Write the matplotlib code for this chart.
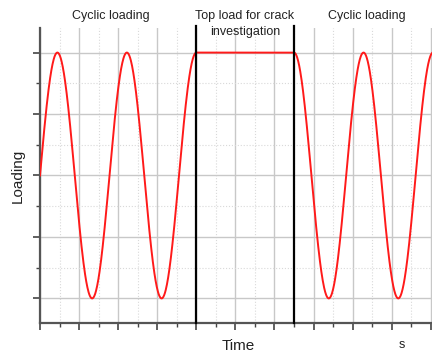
'''
Loading history: cyclic loading, hold at top load, cyclic loading
'''

import numpy as np
import matplotlib
matplotlib.use('Agg')
import matplotlib.pyplot as plt
from matplotlib.ticker import MultipleLocator

plt.rcParams['font.family'] = ['Liberation Sans', 'DejaVu Sans']

# loading stages (time in grid units)
stage_bounds = [0.0, 4.0, 6.5, 10.03]
stage_names = ['Cyclic loading', 'Top load for crack\ninvestigation', 'Cyclic loading']
period = 1.778
amplitude = 1.0


def loading_curve():
    '''
    Build the load history from the three stages
    '''
    t1 = np.linspace(stage_bounds[0], stage_bounds[1], 400)
    y1 = amplitude * np.sin(2 * np.pi * (t1 - stage_bounds[0]) / period)
    t2 = np.array([stage_bounds[1], stage_bounds[2]])
    y2 = np.array([amplitude, amplitude])
    t3 = np.linspace(stage_bounds[2], stage_bounds[3], 400)
    y3 = amplitude * np.cos(2 * np.pi * (t3 - stage_bounds[2]) / period)
    return np.concatenate([t1, t2, t3]), np.concatenate([y1, y2, y3])


def plot_loading():
    '''
    Draw the chart and save it
    '''
    fig = plt.figure(figsize=(4.32, 3.53), dpi=100)
    ax = fig.add_axes([0.0926, 0.085, 0.9074, 0.8357])

    time, load = loading_curve()
    ax.plot(time, load, color='#ff1a1a', lw=1.4, zorder=3)

    for xb in stage_bounds[1:3]:
        ax.plot([xb, xb], [-1.2, 1.22], color='black', lw=1.6,
                clip_on=False, zorder=4)

    ax.set_xlim(stage_bounds[0], stage_bounds[3])
    ax.set_ylim(-1.2, 1.2)

    ax.xaxis.set_major_locator(MultipleLocator(1))
    ax.xaxis.set_minor_locator(MultipleLocator(0.5))
    ax.yaxis.set_major_locator(MultipleLocator(0.5))
    ax.yaxis.set_minor_locator(MultipleLocator(0.25))
    ax.set_xticklabels([])
    ax.set_yticklabels([])
    ax.tick_params(which='major', direction='out', length=5, width=1.2,
                   color='#444444')
    ax.tick_params(which='minor', direction='out', length=3, width=1.0,
                   color='#444444')

    ax.grid(which='major', color='#c8c8c8', lw=1.0)
    ax.grid(which='minor', color='#d9d9d9', lw=0.8, ls=':')
    ax.set_axisbelow(True)

    for side in ['top', 'right']:
        ax.spines[side].set_visible(False)
    for side in ['left', 'bottom']:
        ax.spines[side].set_color('#555555')
        ax.spines[side].set_linewidth(1.6)

    centres = [111, 245, 367]
    for name, xc in zip(stage_names, centres):
        fig.text(xc / 432, 1 - 10 / 353, name, ha='center', va='top',
                 fontsize=9, color='#222222', linespacing=1.5)

    fig.text(238 / 432, 1 - 346 / 353, 'Time', ha='center', va='center',
             fontsize=11, color='#222222')
    fig.text(402 / 432, 1 - 345 / 353, 's', ha='center', va='center',
             fontsize=9, color='#222222')
    fig.text(18 / 432, 1 - 176 / 353, 'Loading', ha='center', va='center',
             rotation=90, fontsize=11, color='#222222')

    fig.savefig('out.png', dpi=100)


plot_loading()
